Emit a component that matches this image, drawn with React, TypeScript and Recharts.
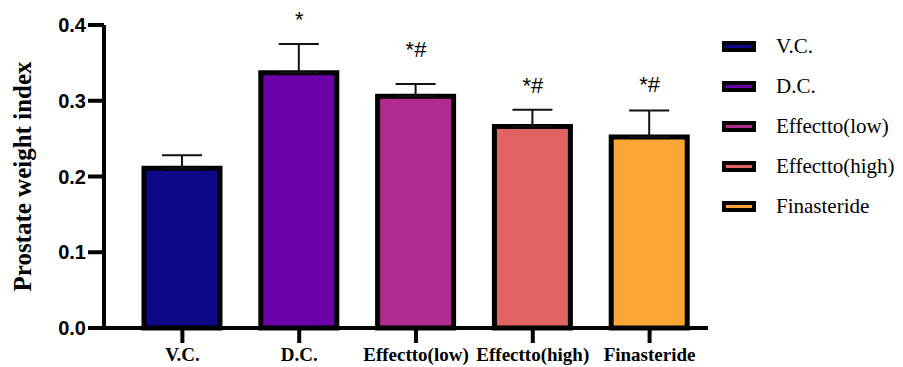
import {
  BarChart,
  Bar,
  Cell,
  ErrorBar,
  XAxis,
  YAxis,
  ReferenceDot,
} from 'recharts';

const GROUPS = ['V.C.', 'D.C.', 'Effectto(low)', 'Effectto(high)', 'Finasteride'];
const MEANS = [0.211, 0.337, 0.306, 0.266, 0.252];
const SEMS = [0.017, 0.038, 0.016, 0.022, 0.035];
// significance marks and the height (in index units) where each sits
const MARKS = ['', '*', '*#', '*#', '*#'];
const MARK_Y = [0, 0.398, 0.358, 0.31, 0.312];
const COLORS = ['#0d0887', '#6a00a8', '#b12a90', '#e16462', '#fca636'];
const Y_TICKS = [0, 0.1, 0.2, 0.3, 0.4];

const rows = GROUPS.map((g, i) => ({ group: g, mean: MEANS[i], sem: SEMS[i] }));

function MarkText({ cx, cy, text }: any) {
  if (cx == null || cy == null) return null;
  return (
    <text x={cx} y={cy} textAnchor="middle" fontFamily="Arial, 'Liberation Sans', sans-serif" fontSize={22} fill="#000">
      {text}
    </text>
  );
}

function Swatches() {
  return (
    <div style={{ position: 'absolute', left: 722, top: 26, fontFamily: "'Times New Roman', 'Liberation Serif', serif", fontSize: 21 }}>
      {GROUPS.map((g, i) => (
        <div key={g} style={{ display: 'flex', alignItems: 'center', height: 40 }}>
          <div style={{ width: 26, height: 3, background: COLORS[i], border: '4px solid #000', marginRight: 20 }} />
          <span>{g}</span>
        </div>
      ))}
    </div>
  );
}

export default function App() {
  return (
    <div style={{ position: 'relative', width: 903, height: 367, background: '#fff' }}>
      <style>{'body{margin:0}'}</style>
      <BarChart width={903} height={367} data={rows} margin={{ top: 25, right: 195, bottom: 0, left: 10 }}>
        <YAxis
          domain={[0, 0.4]}
          ticks={Y_TICKS}
          tickFormatter={(v) => Number(v).toFixed(1)}
          width={94}
          tickSize={16}
          tickMargin={2}
          axisLine={{ stroke: '#000', strokeWidth: 4 }}
          tickLine={{ stroke: '#000', strokeWidth: 4 }}
          tick={{ fill: '#000', fontSize: 20, fontWeight: 700, fontFamily: "Arial, 'Liberation Sans', sans-serif" }}
          label={{
            value: 'Prostate weight index',
            angle: -90,
            position: 'center',
            dx: -35,
            style: { fill: '#000', fontSize: 25, fontWeight: 700, fontFamily: "'Times New Roman', 'Liberation Serif', serif" },
          }}
        />
        <XAxis
          dataKey="group"
          height={39}
          padding={{ left: 20, right: 0 }}
          tickSize={15}
          tickMargin={5}
          interval={0}
          axisLine={{ stroke: '#000', strokeWidth: 4 }}
          tickLine={{ stroke: '#000', strokeWidth: 4 }}
          tick={{ fill: '#000', fontSize: 19, fontWeight: 700, fontFamily: "'Times New Roman', 'Liberation Serif', serif" }}
        />
        <Bar dataKey="mean" barSize={76} stroke="#000" strokeWidth={5} isAnimationActive={false}>
          {rows.map((r, i) => (
            <Cell key={r.group} fill={COLORS[i]} />
          ))}
          <ErrorBar dataKey={(d: any) => [0, d.sem]} width={20} stroke="#111" strokeWidth={2} direction="y" />
        </Bar>
        {GROUPS.map((g, i) =>
          MARKS[i] ? (
            <ReferenceDot
              key={g}
              x={g}
              y={MARK_Y[i]}
              r={1}
              ifOverflow="visible"
              shape={(p: any) => <MarkText {...p} text={MARKS[i]} />}
            />
          ) : null,
        )}
      </BarChart>
      <Swatches />
    </div>
  );
}
